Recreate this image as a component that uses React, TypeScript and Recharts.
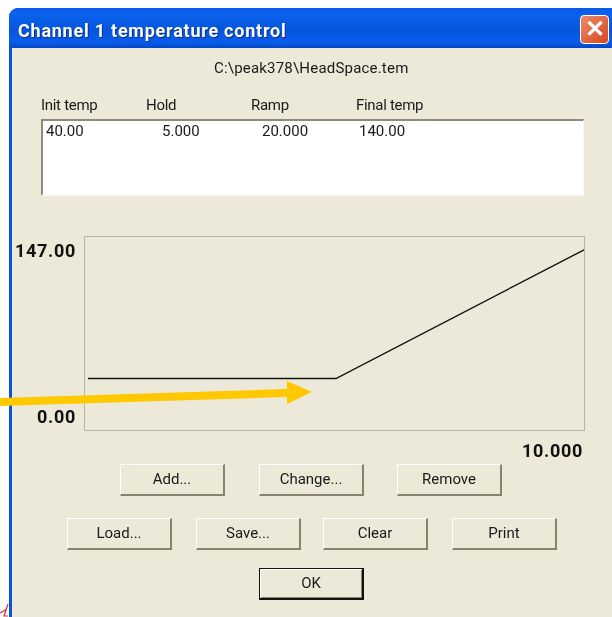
import { LineChart, Line, XAxis, YAxis } from "recharts";

const times = [0, 5, 10];
const temps = [40, 40, 140];
const yTicks = [0, 147];
const yTickLabels = ["0.00", "147.00"];
const xTicks = [10];
const xTickLabels = ["10.000"];

const data = times.map((t, i) => ({ t, temp: temps[i] }));

const tableColumns = ["Init temp", "Hold", "Ramp", "Final temp"];
const tableRow = ["40.00", "5.000", "20.000", "140.00"];
const headerX = [41, 146, 251, 356];
const rowX = [46, 162, 262, 359];

const buttons = [
    { label: "Add...", x: 120, y: 464 },
    { label: "Change...", x: 259, y: 464 },
    { label: "Remove", x: 397, y: 464 },
    { label: "Load...", x: 67, y: 518 },
    { label: "Save...", x: 196, y: 518 },
    { label: "Clear", x: 323, y: 518 },
    { label: "Print", x: 452, y: 518 },
];

const FONT = "Roboto, sans-serif";
const BG = "#ece9d8";

function text(x: number, y: number, s: string, extra: React.CSSProperties = {}) {
    return (
        <div
            key={s + x}
            style={{
                position: "absolute",
                left: x,
                top: y,
                fontFamily: FONT,
                fontSize: 15,
                lineHeight: "18px",
                color: "#1a1a1a",
                whiteSpace: "nowrap",
                ...extra,
            }}
        >
            {s}
        </div>
    );
}

function YTick({ y, payload }: any) {
    const i = yTicks.indexOf(payload.value);
    return (
        <text x={76} y={y + (i === 1 ? 16 : -7)} textAnchor="end" fontFamily={FONT} fontWeight={700} fontSize={18} letterSpacing={0.7} fill="#111">
            {yTickLabels[i]}
        </text>
    );
}

function XTick({ x, payload }: any) {
    const i = xTicks.indexOf(payload.value);
    return (
        <text x={x - 1} y={457} textAnchor="end" fontFamily={FONT} fontWeight={700} fontSize={18} letterSpacing={0.7} fill="#111">
            {xTickLabels[i]}
        </text>
    );
}

function Button({ label, x, y, isDefault }: { label: string; x: number; y: number; isDefault?: boolean }) {
    const light = isDefault ? "#111" : "#fff";
    const dark = isDefault ? "#111" : "#86836f";
    return (
        <div
            style={{
                position: "absolute",
                left: x,
                top: y,
                width: 105,
                height: 32,
                boxSizing: "border-box",
                background: BG,
                borderTop: `1px solid ${light}`,
                borderLeft: `1px solid ${light}`,
                borderRight: `2px solid ${dark}`,
                borderBottom: `2px solid ${dark}`,
                boxShadow: isDefault ? "inset 1px 1px 0 #fff, inset -1px -1px 0 #86836f" : undefined,
                fontFamily: FONT,
                fontSize: 15,
                lineHeight: "29px",
                textAlign: "center",
                color: "#1a1a1a",
            }}
        >
            {label}
        </div>
    );
}

export default function App() {
    return (
        <div style={{ position: "absolute", left: 0, top: 0, width: 612, height: 617, overflow: "hidden", background: "#fff" }}>
            <div style={{ position: "absolute", inset: 0, filter: "blur(0.35px)" }}>
                {/* window frame */}
                <div
                    style={{
                        position: "absolute",
                        left: 9,
                        top: 8,
                        width: 620,
                        height: 640,
                        background: "#0a52e0",
                        borderTopLeftRadius: 9,
                    }}
                />
                <div
                    style={{
                        position: "absolute",
                        left: 9,
                        top: 8,
                        width: 620,
                        height: 40,
                        borderTopLeftRadius: 9,
                        background: "linear-gradient(180deg,#0a5ae6 0%,#0a62ee 15%,#0656dc 55%,#0a5cec 85%,#0348c4 100%)",
                    }}
                />
                <div style={{ position: "absolute", left: 12, top: 48, width: 620, height: 600, background: BG }} />
                {text(18, 20, "Channel 1 temperature control", {
                    color: "#fff",
                    fontWeight: 700,
                    fontSize: 18,
                    lineHeight: "22px",
                    letterSpacing: 0.76,
                    textShadow: "1px 1px 0 #0a2f90",
                })}
                <div
                    style={{
                        position: "absolute",
                        left: 580,
                        top: 15,
                        width: 29,
                        height: 29,
                        boxSizing: "border-box",
                        borderRadius: 4,
                        border: "1px solid #fff",
                        background: "linear-gradient(135deg,#ee8a68,#d8471f)",
                        color: "#fff",
                        fontFamily: FONT,
                        fontWeight: 700,
                        fontSize: 24,
                        lineHeight: "26px",
                        textAlign: "center",
                    }}
                >
                    ✕
                </div>

                {text(214, 59, "C:\\peak378\\HeadSpace.tem", { letterSpacing: 0.2 })}
                {tableColumns.map((c, i) => text(headerX[i], 96, c, { letterSpacing: -0.3 }))}

                {/* list box */}
                <div
                    style={{
                        position: "absolute",
                        left: 41,
                        top: 119,
                        width: 543,
                        height: 77,
                        boxSizing: "border-box",
                        background: "#fff",
                        borderTop: "2px solid #8f8c7e",
                        borderLeft: "2px solid #8f8c7e",
                        borderRight: "1px solid #f8f7f0",
                        borderBottom: "2px solid #f8f7f0",
                    }}
                />
                {tableRow.map((c, i) => text(rowX[i], 122, c))}

                {/* plot frame */}
                <div
                    style={{
                        position: "absolute",
                        left: 84,
                        top: 236,
                        width: 501,
                        height: 195,
                        boxSizing: "border-box",
                        border: "1px solid #b8b5a6",
                    }}
                />

                <div style={{ position: "absolute", left: 0, top: 0 }}>
                    <LineChart
                        width={612}
                        height={617}
                        data={data}
                        margin={{ top: 237, right: 27, bottom: 0, left: 0 }}
                    >
                        <XAxis
                            dataKey="t"
                            type="number"
                            domain={[-0.06, 10.02]}
                            ticks={xTicks}
                            height={187}
                            axisLine={false}
                            tickLine={false}
                            tick={<XTick />}
                            interval={0}
                        />
                        <YAxis
                            type="number"
                            domain={[0, 150]}
                            ticks={yTicks}
                            width={85}
                            axisLine={false}
                            tickLine={false}
                            tick={<YTick />}
                            interval={0}
                        />
                        <Line
                            dataKey="temp"
                            type="linear"
                            stroke="#111"
                            strokeWidth={1.4}
                            dot={false}
                            isAnimationActive={false}
                        />
                    </LineChart>
                </div>

                {buttons.map((b) => (
                    <Button key={b.label} {...b} />
                ))}
                <Button label="OK" x={259} y={568} isDefault />

                {/* annotation arrow and the clipped mark at the bottom edge */}
                <svg width={612} height={617} style={{ position: "absolute", left: 0, top: 0 }}>
                    <polygon
                        points="0,398 287,389 287,381 312,392 287,404 287,397 0,406"
                        fill="#ffc800"
                    />
                    <path d="M0 613 L7 609 M8 604 L4 616 L8 616" stroke="#d03040" strokeWidth={1.2} fill="none" />
                </svg>
            </div>
        </div>
    );
}
